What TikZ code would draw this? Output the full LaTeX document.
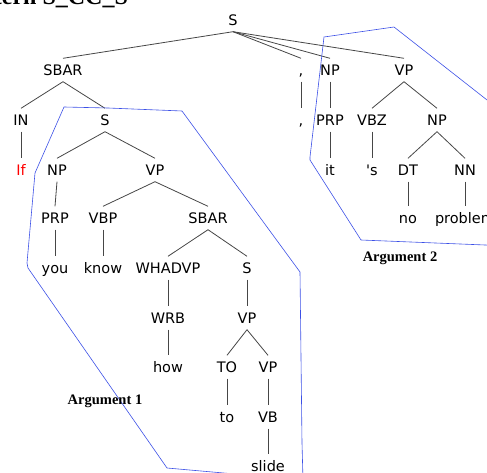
\documentclass[tikz,border=0pt]{standalone}
\usepackage{fontspec}
\setmainfont{DejaVu Sans}
\newfontfamily\serifbf{Liberation Serif}[BoldFont={Liberation Serif Bold}]
\definecolor{argblue}{RGB}{60,80,230}
\definecolor{edgegray}{RGB}{70,70,70}
\tikzset{
  lbl/.style={inner xsep=1pt, inner ysep=6pt, text height=11pt, text depth=0pt, font=\fontsize{14.5}{16}\selectfont},
  edge/.style={draw=edgegray, line width=0.8pt},
  hull/.style={draw=argblue, line width=0.6pt},
  argtag/.style={font=\serifbf\bfseries\fontsize{14.5}{16}\selectfont}
}
\begin{document}
\begin{tikzpicture}[x=1pt,y=-1pt]
\clip (0,0) rectangle (487,473);

% Title (cut off by the frame)
\node[anchor=base west, inner sep=0pt, font=\serifbf\bfseries\fontsize{24}{26}\selectfont] (title) at (-41,4.5) {Pattern S\_CC\_S};

% Tree labels
\foreach \n/\x/\y/\t in {
    root/233/20/S,
    sbarA/63/70/SBAR, comA/301/70/{,}, npA/330/70/NP, vpA/404/70/VP,
    inB/21/120/IN, sB/105/120/S, comB/301/120/{,}, prpB/330/120/PRP, vbzB/372/120/VBZ, npB/437/120/NP,
    npC/57/170/NP, vpC/155/170/VP, itC/330/170/it, sC/372/170/{\textquotesingle s}, dtC/408/170/DT, nnC/465/170/NN,
    prpD/55/218/PRP, vbpD/103/218/VBP, sbarD/208/218/SBAR, noD/408/218/no, probD/465/218/problem,
    youE/55/268/you, knowE/103/268/know, whE/168/268/WHADVP, sE/247/268/S,
    wrbF/168/318/WRB, vpF/247/318/VP,
    howG/168/367/how, toG/227/367/TO, vpG/268/367/VP,
    toH/227/417/to, vbH/268/417/VB,
    slideI/268/466/slide}
    \node[lbl] (\n) at (\x,\y) {\t};
\node[lbl, text=red] (ifC) at (21,170) {If};

% Branches
\foreach \a/\b in {root/sbarA, root/comA, root/npA, root/vpA,
    sbarA/inB, sbarA/sB, comA/comB, npA/prpB, vpA/vbzB, vpA/npB,
    inB/ifC, sB/npC, sB/vpC, prpB/itC, vbzB/sC, npB/dtC, npB/nnC,
    npC/prpD, vpC/vbpD, vpC/sbarD, dtC/noD, nnC/probD,
    prpD/youE, vbpD/knowE, sbarD/whE, sbarD/sE,
    whE/wrbF, sE/vpF,
    wrbF/howG, vpF/toG, vpF/vpG,
    toG/toH, vpG/vbH,
    vbH/slideI}
    \draw[edge] (\a.south) -- (\b.north);

% Argument hulls
\draw[hull] (64,107) -- (108,108) -- (182,111) -- (300,272) -- (302,443) -- (303,480)
    -- (167,468) -- (28,268) -- (27,263) -- (35,173) -- cycle;
\draw[hull] (324,37) -- (394,27) -- (510,118) -- (510,246) -- (361,240)
    -- (310,160) -- (310,157) -- cycle;

% Argument names
\node[argtag] (arg1) at (105,401) {Argument 1};
\node[argtag] (arg2) at (400,258) {Argument 2};
\end{tikzpicture}
\end{document}
